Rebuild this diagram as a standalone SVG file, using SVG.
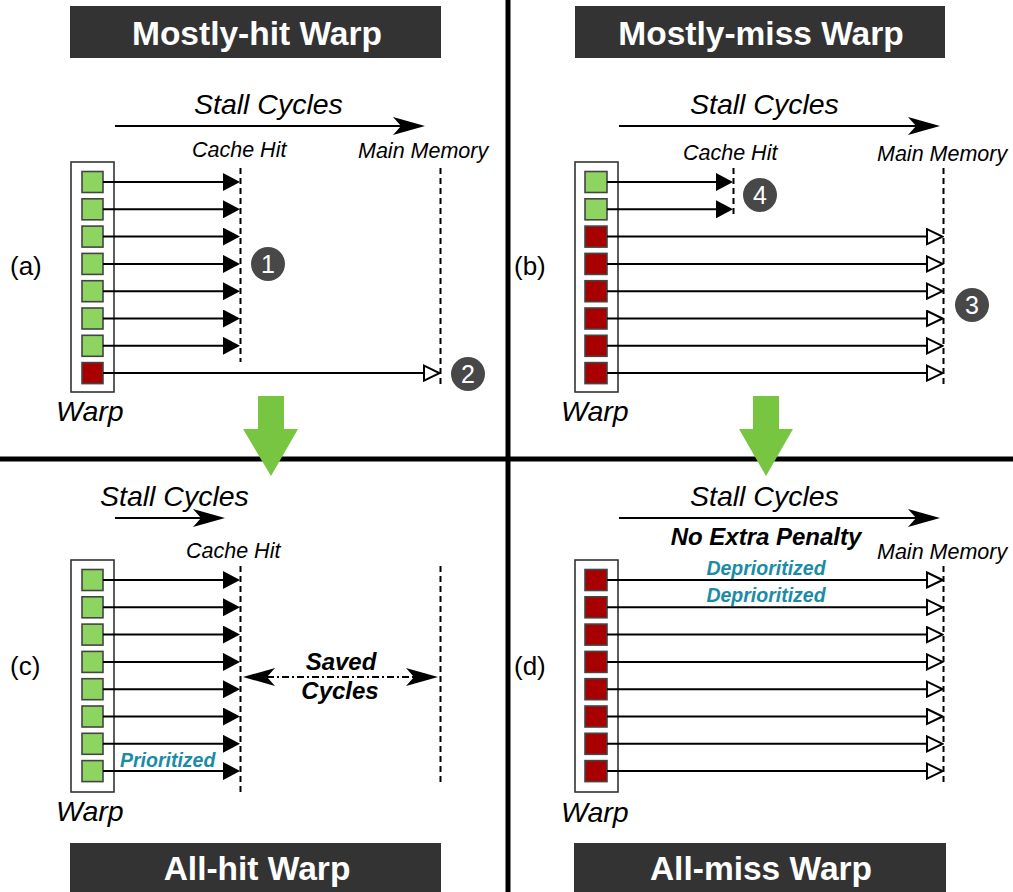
<svg xmlns="http://www.w3.org/2000/svg" width="1013" height="892" viewBox="0 0 1013 892">
  <style>
    text { font-family: "Liberation Sans", Arial, sans-serif; }
    .title-box { fill: #333333; }
    .title { font-size: 33.5px; font-weight: bold; fill: #ffffff; text-anchor: middle; }
    .stall { font-size: 28.5px; font-style: italic; fill: #000; }
    .level { font-size: 21.5px; font-style: italic; fill: #000; }
    .panel { font-size: 26px; fill: #000; }
    .warp-label { font-size: 28.5px; font-style: italic; fill: #000; }
    .warp-box { fill: #ffffff; stroke: #333333; stroke-width: 1.6; }
    .hit { fill: #8ed460; stroke: #444444; stroke-width: 1.6; }
    .miss { fill: #a80000; stroke: #444444; stroke-width: 1.6; }
    .req { stroke: #000; stroke-width: 2; fill: none; }
    .req-hit { marker-end: url(#head-filled); }
    .req-miss { marker-end: url(#head-hollow); }
    .latency { stroke: #000; stroke-width: 2; stroke-dasharray: 6 4; fill: none; }
    .timeline { stroke: #000; stroke-width: 2; fill: none; marker-end: url(#head-stealth); }
    .badge { fill: #484848; }
    .badge-num { font-size: 25px; fill: #ffffff; text-anchor: middle; }
    .prio { font-size: 19.5px; font-weight: bold; font-style: italic; fill: #1a8ca6; }
    .note { font-size: 24px; font-weight: bold; font-style: italic; fill: #000; text-anchor: middle; }
    .divider { stroke: #000; stroke-width: 5; }
    .flow { fill: #77c540; }
  </style>
  <defs>
    <marker id="head-filled" markerUnits="userSpaceOnUse" viewBox="0 0 17 18" refX="0" refY="9" markerWidth="17" markerHeight="18" orient="auto">
      <path d="M0,0 L17,9 L0,18 Z" fill="#000"/>
    </marker>
    <marker id="head-hollow" markerUnits="userSpaceOnUse" viewBox="0 0 18 18" refX="1" refY="9" markerWidth="18" markerHeight="18" orient="auto">
      <path d="M1,1.5 L16.5,9 L1,16.5 Z" fill="#fff" stroke="#000" stroke-width="2"/>
    </marker>
    <marker id="head-stealth" markerUnits="userSpaceOnUse" viewBox="0 0 32 18" refX="8" refY="9" markerWidth="32" markerHeight="18" orient="auto-start-reverse">
      <path d="M0,0 L32,9 L0,18 L8,9 Z" fill="#000"/>
    </marker>
  </defs>

  <!-- quadrant dividers -->
  <g id="dividers">
    <line class="divider" x1="0" y1="459" x2="1013" y2="459"/>
    <line class="divider" x1="508" y1="0" x2="508" y2="892"/>
  </g>

  <!-- (a) mostly-hit warp -->
  <g id="panel-a">
    <rect class="title-box" x="70" y="6" width="371" height="52"/>
    <text class="title" x="257" y="45">Mostly-hit Warp</text>
    <text class="stall" x="194" y="114">Stall Cycles</text>
    <text class="level" x="192" y="157">Cache Hit</text>
    <text class="level" x="358" y="158">Main Memory</text>
    <text class="panel" x="10" y="275">(a)</text>
    <text class="warp-label" x="56" y="421">Warp</text>
  </g>
  <g id="warp-a">
    <rect class="warp-box" x="71" y="162" width="43" height="230"/>
    <rect class="hit" x="82" y="171.5" width="21" height="21"/>
    <rect class="hit" x="82" y="198.8" width="21" height="21"/>
    <rect class="hit" x="82" y="226.1" width="21" height="21"/>
    <rect class="hit" x="82" y="253.4" width="21" height="21"/>
    <rect class="hit" x="82" y="280.7" width="21" height="21"/>
    <rect class="hit" x="82" y="308" width="21" height="21"/>
    <rect class="hit" x="82" y="335.3" width="21" height="21"/>
    <rect class="miss" x="82" y="362.6" width="21" height="21"/>
  </g>
  <g id="badges-a">
    <circle class="badge" cx="268" cy="264" r="17"/>
    <text class="badge-num" x="268" y="273">1</text>
    <circle class="badge" cx="468" cy="374" r="17"/>
    <text class="badge-num" x="468" y="383">2</text>
  </g>

  <!-- (b) mostly-miss warp -->
  <g id="panel-b">
    <rect class="title-box" x="575" y="6" width="370" height="52"/>
    <text class="title" x="761" y="45">Mostly-miss Warp</text>
    <text class="stall" x="690" y="114">Stall Cycles</text>
    <text class="level" x="683" y="160">Cache Hit</text>
    <text class="level" x="877" y="161">Main Memory</text>
    <text class="panel" x="514" y="275">(b)</text>
    <text class="warp-label" x="561" y="421">Warp</text>
  </g>
  <g id="warp-b">
    <rect class="warp-box" x="575" y="162" width="43" height="230"/>
    <rect class="hit" x="585" y="171.5" width="22" height="21"/>
    <rect class="hit" x="585" y="198.8" width="22" height="21"/>
    <rect class="miss" x="585" y="226.1" width="22" height="21"/>
    <rect class="miss" x="585" y="253.4" width="22" height="21"/>
    <rect class="miss" x="585" y="280.7" width="22" height="21"/>
    <rect class="miss" x="585" y="308" width="22" height="21"/>
    <rect class="miss" x="585" y="335.3" width="22" height="21"/>
    <rect class="miss" x="585" y="362.6" width="22" height="21"/>
  </g>
  <g id="badges-b">
    <circle class="badge" cx="760" cy="195" r="17"/>
    <text class="badge-num" x="760" y="204">4</text>
    <circle class="badge" cx="972" cy="305" r="17"/>
    <text class="badge-num" x="972" y="314">3</text>
  </g>

  <!-- (c) all-hit warp -->
  <g id="panel-c">
    <rect class="title-box" x="70" y="843" width="371" height="52"/>
    <text class="title" x="257" y="880">All-hit Warp</text>
    <text class="stall" x="100" y="506">Stall Cycles</text>
    <text class="level" x="186" y="558">Cache Hit</text>
    <text class="panel" x="10" y="675">(c)</text>
    <text class="warp-label" x="56" y="821">Warp</text>
    <text class="note" x="341" y="670">Saved</text>
    <text class="note" x="340" y="699">Cycles</text>
    <text class="prio" x="120" y="767">Prioritized</text>
  </g>
  <g id="warp-c">
    <rect class="warp-box" x="71" y="560" width="43" height="232"/>
    <rect class="hit" x="82" y="569.5" width="21" height="21"/>
    <rect class="hit" x="82" y="596.8" width="21" height="21"/>
    <rect class="hit" x="82" y="624.1" width="21" height="21"/>
    <rect class="hit" x="82" y="651.4" width="21" height="21"/>
    <rect class="hit" x="82" y="678.7" width="21" height="21"/>
    <rect class="hit" x="82" y="706" width="21" height="21"/>
    <rect class="hit" x="82" y="733.3" width="21" height="21"/>
    <rect class="hit" x="82" y="760.6" width="21" height="21"/>
  </g>

  <!-- (d) all-miss warp -->
  <g id="panel-d">
    <rect class="title-box" x="574" y="843" width="372" height="52"/>
    <text class="title" x="761" y="880">All-miss Warp</text>
    <text class="stall" x="690" y="506">Stall Cycles</text>
    <text class="note" x="766" y="545">No Extra Penalty</text>
    <text class="level" x="877" y="559">Main Memory</text>
    <text class="panel" x="514" y="675">(d)</text>
    <text class="warp-label" x="561" y="822">Warp</text>
    <text class="prio" x="766" y="575" text-anchor="middle">Deprioritized</text>
    <text class="prio" x="766" y="602" text-anchor="middle">Deprioritized</text>
  </g>
  <g id="warp-d">
    <rect class="warp-box" x="575" y="560" width="43" height="232"/>
    <rect class="miss" x="585" y="569.5" width="22" height="21"/>
    <rect class="miss" x="585" y="596.8" width="22" height="21"/>
    <rect class="miss" x="585" y="624.1" width="22" height="21"/>
    <rect class="miss" x="585" y="651.4" width="22" height="21"/>
    <rect class="miss" x="585" y="678.7" width="22" height="21"/>
    <rect class="miss" x="585" y="706" width="22" height="21"/>
    <rect class="miss" x="585" y="733.3" width="22" height="21"/>
    <rect class="miss" x="585" y="760.6" width="22" height="21"/>
  </g>

  <!-- connectors: timelines, latency bounds and per-thread requests -->
  <g id="connectors">
    <!-- stall-cycle timelines -->
    <line class="timeline" x1="115" y1="126" x2="401" y2="126"/>
    <line class="timeline" x1="619" y1="126" x2="916" y2="126"/>
    <line class="timeline" x1="115" y1="518" x2="201" y2="518"/>
    <line class="timeline" x1="619" y1="518" x2="916" y2="518"/>

    <!-- latency bounds -->
    <line class="latency" x1="240.5" y1="168" x2="240.5" y2="362"/>
    <line class="latency" x1="440.5" y1="168" x2="440.5" y2="386"/>
    <line class="latency" x1="733.5" y1="168" x2="733.5" y2="218"/>
    <line class="latency" x1="943.5" y1="168" x2="943.5" y2="386"/>
    <line class="latency" x1="240.5" y1="566" x2="240.5" y2="793"/>
    <line class="latency" x1="440.5" y1="566" x2="440.5" y2="786"/>
    <line class="latency" x1="943.5" y1="566" x2="943.5" y2="786"/>

    <!-- (a) requests -->
    <line class="req req-hit" x1="103" y1="182" x2="223" y2="182"/>
    <line class="req req-hit" x1="103" y1="209.3" x2="223" y2="209.3"/>
    <line class="req req-hit" x1="103" y1="236.6" x2="223" y2="236.6"/>
    <line class="req req-hit" x1="103" y1="263.9" x2="223" y2="263.9"/>
    <line class="req req-hit" x1="103" y1="291.2" x2="223" y2="291.2"/>
    <line class="req req-hit" x1="103" y1="318.5" x2="223" y2="318.5"/>
    <line class="req req-hit" x1="103" y1="345.8" x2="223" y2="345.8"/>
    <line class="req req-miss" x1="103" y1="373.1" x2="424" y2="373.1"/>

    <!-- (b) requests -->
    <line class="req req-hit" x1="607" y1="182" x2="716" y2="182"/>
    <line class="req req-hit" x1="607" y1="209.3" x2="716" y2="209.3"/>
    <line class="req req-miss" x1="607" y1="236.6" x2="927" y2="236.6"/>
    <line class="req req-miss" x1="607" y1="263.9" x2="927" y2="263.9"/>
    <line class="req req-miss" x1="607" y1="291.2" x2="927" y2="291.2"/>
    <line class="req req-miss" x1="607" y1="318.5" x2="927" y2="318.5"/>
    <line class="req req-miss" x1="607" y1="345.8" x2="927" y2="345.8"/>
    <line class="req req-miss" x1="607" y1="373.1" x2="927" y2="373.1"/>

    <!-- (c) requests -->
    <line class="req req-hit" x1="103" y1="580" x2="223" y2="580"/>
    <line class="req req-hit" x1="103" y1="607.3" x2="223" y2="607.3"/>
    <line class="req req-hit" x1="103" y1="634.6" x2="223" y2="634.6"/>
    <line class="req req-hit" x1="103" y1="661.9" x2="223" y2="661.9"/>
    <line class="req req-hit" x1="103" y1="689.2" x2="223" y2="689.2"/>
    <line class="req req-hit" x1="103" y1="716.5" x2="223" y2="716.5"/>
    <line class="req req-hit" x1="103" y1="743.8" x2="223" y2="743.8"/>
    <line class="req req-hit" x1="103" y1="771.1" x2="223" y2="771.1"/>

    <!-- saved cycles span -->
    <line x1="267" y1="677" x2="414" y2="677" stroke="#000" stroke-width="2" stroke-dasharray="7 3 2 3" marker-start="url(#head-stealth)" marker-end="url(#head-stealth)"/>

    <!-- (d) requests -->
    <line class="req req-miss" x1="607" y1="580" x2="927" y2="580"/>
    <line class="req req-miss" x1="607" y1="607.3" x2="927" y2="607.3"/>
    <line class="req req-miss" x1="607" y1="634.6" x2="927" y2="634.6"/>
    <line class="req req-miss" x1="607" y1="661.9" x2="927" y2="661.9"/>
    <line class="req req-miss" x1="607" y1="689.2" x2="927" y2="689.2"/>
    <line class="req req-miss" x1="607" y1="716.5" x2="927" y2="716.5"/>
    <line class="req req-miss" x1="607" y1="743.8" x2="927" y2="743.8"/>
    <line class="req req-miss" x1="607" y1="771.1" x2="927" y2="771.1"/>

    <!-- transitions between quadrants -->
    <polygon class="flow" points="258,396 284,396 284,429 298,429 271,476 243,429 258,429"/>
    <polygon class="flow" points="753,396 779,396 779,429 793,429 766,476 739,429 753,429"/>
  </g>
</svg>
